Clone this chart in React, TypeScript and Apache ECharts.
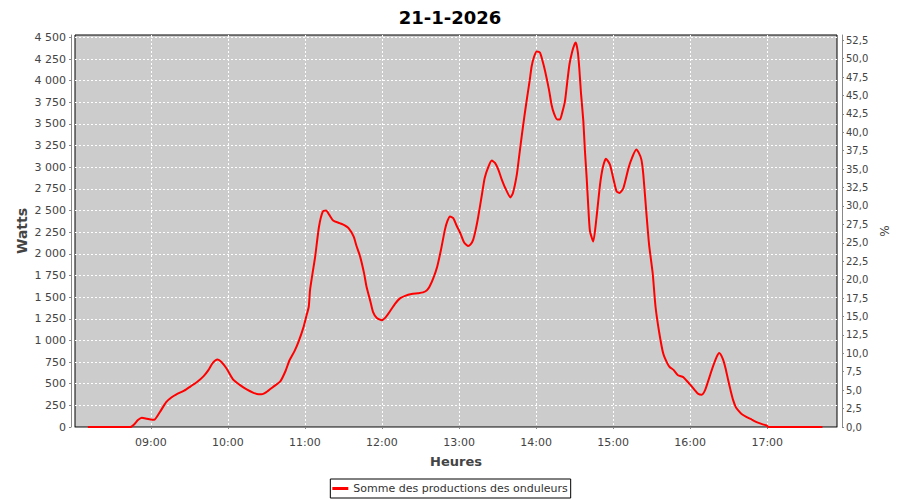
import React, { useEffect, useRef } from "react";
import * as echarts from "echarts";

const TITLE = "21-1-2026";
const SERIES_NAME = "Somme des productions des onduleurs";

// time of day in minutes since midnight
const minutes = [
  491, 500, 510, 520, 524, 527, 530, 533, 537, 541, 543, 547, 552, 556, 560, 566, 571, 576, 581, 585,
  588, 592, 595, 599, 604, 609, 615, 620, 624, 627, 630, 635, 641, 645, 648, 652, 655, 659, 661, 663,
  664, 666, 668, 671, 674, 676.5, 679, 682, 687, 691, 694, 698, 700, 703, 706, 708, 711, 713, 716, 720,
  723, 726, 730, 734, 738, 743, 748, 752, 755, 757, 760, 763, 766, 769, 771, 773, 775.5, 778, 781, 784,
  787, 789, 791, 793, 795, 798, 800, 803, 805.5, 808, 810.6, 813, 816, 820, 822, 825, 827, 829, 831, 833,
  835, 836.6, 838.5, 840.5, 843, 845, 847, 850, 852, 854, 856.5, 858.6, 860.5, 862.5, 864, 866, 868, 870, 871, 872.5,
  873.6, 875, 876.8, 878, 879.4, 881, 882, 884.5, 887, 889.8, 892, 894.4, 897.5, 900, 902.7, 905, 908, 912, 915, 918,
  920, 922, 923.5, 926, 928, 930.8, 933, 936, 939, 942, 944, 947, 950.5, 954.6, 957, 960, 963.7, 966, 969, 971.5,
  974, 976.7, 980.6, 982.6, 985.3, 987.5, 989.6, 991.5, 993.5, 995.5, 997.4, 1000, 1004, 1008, 1011.7, 1016, 1019.5, 1021, 1030, 1040,
  1050, 1063,
];

const watts = [
  0, 0, 0, 0, 0, 30, 80, 107, 95, 83, 85, 170, 287, 340, 377, 420, 470, 520, 585, 660,
  735, 779, 750, 675, 550, 490, 431, 395, 377, 380, 403, 460, 531, 650, 771, 880, 983, 1157, 1273, 1389,
  1582, 1780, 1968, 2316, 2490, 2501, 2450, 2385, 2355, 2330, 2297, 2200, 2100, 1968, 1780, 1620, 1450, 1331, 1260, 1234,
  1270, 1331, 1420, 1486, 1515, 1536, 1545, 1555, 1580, 1620, 1720, 1852, 2050, 2277, 2380, 2432, 2413, 2330, 2239, 2130,
  2092, 2110, 2162, 2280, 2432, 2700, 2877, 3010, 3077, 3050, 2973, 2870, 2761, 2652, 2703, 2915, 3150, 3379, 3600, 3804,
  4000, 4170, 4280, 4337, 4325, 4230, 4112, 3900, 3726, 3620, 3552, 3552, 3640, 3764, 3950, 4190, 4330, 4422, 4441, 4330,
  4152, 3850, 3533, 3200, 2877, 2450, 2258, 2142, 2413, 2799, 3000, 3100, 3031, 2880, 2721, 2703, 2761, 2993, 3120, 3205,
  3166, 3089, 2915, 2451, 2104, 1776, 1389, 1080, 848, 740, 693, 660, 597, 577, 539, 490, 423, 385, 373, 423,
  530, 655, 809, 855, 790, 680, 539, 420, 307, 230, 191, 150, 114, 85, 56, 33, 17, 0, 0, 0,
  0, 0,
];

const hourTicks = [540, 600, 660, 720, 780, 840, 900, 960, 1020];
const wattTicks = [0, 250, 500, 750, 1000, 1250, 1500, 1750, 2000, 2250, 2500, 2750, 3000, 3250, 3500, 3750, 4000, 4250, 4500];
const percentTicks = [0, 2.5, 5, 7.5, 10, 12.5, 15, 17.5, 20, 22.5, 25, 27.5, 30, 32.5, 35, 37.5, 40, 42.5, 45, 47.5, 50, 52.5];

const FONT = "DejaVu Sans";

function fmtHour(v: number) {
  const h = Math.floor(v / 60);
  const m = Math.round(v - h * 60);
  return String(h).padStart(2, "0") + ":" + String(m).padStart(2, "0");
}
function fmtWatt(v: number) {
  return String(Math.round(v)).replace(/\B(?=(\d{3})+(?!\d))/g, " ");
}
function fmtPct(v: number) {
  return v.toFixed(1).replace(".", ",");
}

export default function App() {
  const ref = useRef<HTMLDivElement>(null);
  useEffect(() => {
    if (!ref.current) return;
    const chart = echarts.init(ref.current, undefined, { renderer: "svg" });
    const data = minutes.map((m, i) => [m, watts[i]]);
    const axisLine = { show: true, lineStyle: { color: "#888888", width: 1 } };
    const axisTick = { show: true, length: 2, lineStyle: { color: "#888888" } };
    chart.setOption({
      animation: false,
      backgroundColor: "#ffffff",
      textStyle: { fontFamily: FONT },
      title: {
        text: TITLE,
        left: "center",
        top: 3,
        textStyle: { fontFamily: FONT, fontSize: 18, fontWeight: "bold", color: "#000000" },
      },
      legend: {
        data: [{ name: SERIES_NAME, icon: "rect" }],
        left: "center",
        bottom: 2,
        itemWidth: 16,
        itemHeight: 3,
        padding: [4, 3, 4, 2],
        borderColor: "#000000",
        borderWidth: 1,
        borderRadius: 0,
        backgroundColor: "#ffffff",
        textStyle: { fontFamily: FONT, fontSize: 11, color: "#333333" },
      },
      grid: {
        left: 75,
        right: 63,
        top: 35,
        bottom: 73,
        show: true,
        backgroundColor: "#cccccc",
        borderColor: "#000000",
        borderWidth: 1,
      },
      xAxis: {
        type: "value",
        min: 481,
        max: 1074.3,
        offset: 4,
        name: "Heures",
        nameLocation: "middle",
        nameGap: 24,
        nameTextStyle: { fontFamily: FONT, fontSize: 13, fontWeight: "bold", color: "#444444" },
        axisLine,
        axisTick: { ...axisTick, customValues: hourTicks },
        axisLabel: {
          customValues: hourTicks,
          formatter: (v: number) => fmtHour(v),
          fontFamily: FONT,
          fontSize: 11,
          color: "#444444",
          margin: 6,
        },
        splitLine: { show: true, lineStyle: { color: "#ffffff", type: [2, 2], width: 1 } },
      },
      yAxis: [
        {
          type: "value",
          min: 0,
          max: 4528,
          interval: 250,
          offset: 4,
          name: "Watts",
          nameLocation: "middle",
          nameGap: 42,
          nameMoveOverlap: false,
          nameTextStyle: { fontFamily: FONT, fontSize: 14, fontWeight: "bold", color: "#444444" },
          axisLine,
          axisTick: { ...axisTick, customValues: wattTicks },
          axisLabel: {
            customValues: wattTicks,
            formatter: (v: number) => fmtWatt(v),
            fontFamily: FONT,
            fontSize: 11,
            color: "#444444",
            margin: 5,
          },
          splitLine: { show: true, lineStyle: { color: "#ffffff", type: [2, 2], width: 1 } },
        },
        {
          type: "value",
          position: "right",
          min: 0,
          max: 53.2,
          interval: 2.5,
          offset: 5,
          name: "%",
          nameLocation: "middle",
          nameGap: 36,
          nameTextStyle: { fontFamily: FONT, fontSize: 12, color: "#444444" },
          axisLine,
          axisTick: { ...axisTick, customValues: percentTicks },
          axisLabel: {
            customValues: percentTicks,
            formatter: (v: number) => fmtPct(v),
            fontFamily: FONT,
            fontSize: 10,
            color: "#444444",
            margin: 4,
          },
          splitLine: { show: false },
        },
      ],
      series: [
        {
          name: SERIES_NAME,
          type: "line",
          yAxisIndex: 0,
          data,
          showSymbol: false,
          smooth: 0.2,
          lineStyle: { color: "#ff0000", width: 2 },
          itemStyle: { color: "#ff0000" },
        },
      ],
    });
    return () => chart.dispose();
  }, []);
  return <div ref={ref} style={{ position: "absolute", left: 0, top: 0, width: 900, height: 500 }} />;
}
